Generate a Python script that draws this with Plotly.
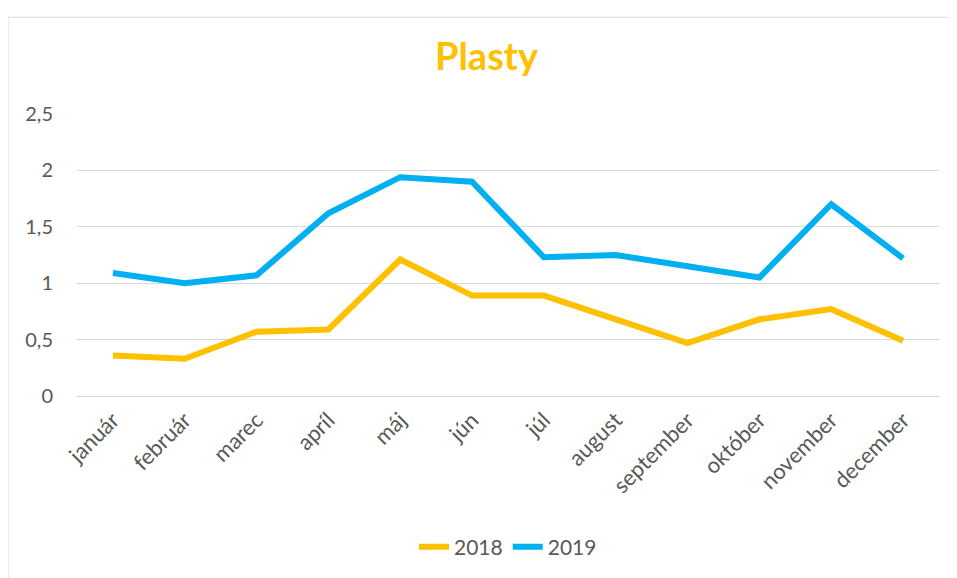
import plotly.graph_objects as go

months = ["január", "február", "marec", "apríl", "máj", "jún", "júl",
          "august", "september", "október", "november", "december"]
y2018 = [0.36, 0.33, 0.57, 0.59, 1.21, 0.89, 0.89, 0.68, 0.47, 0.68, 0.77, 0.49]
y2019 = [1.09, 1.00, 1.07, 1.62, 1.94, 1.90, 1.23, 1.25, 1.15, 1.05, 1.70, 1.22]
series_names = ["2018", "2019"]
colors = ["#FFC000", "#00B0F0"]
yticks = [0, 0.5, 1, 1.5, 2, 2.5]

fig = go.Figure()
for name, vals, col in zip(series_names, [y2018, y2019], colors):
    fig.add_trace(go.Scatter(x=months, y=vals, name=name, mode="lines",
                             line=dict(color=col, width=6)))

font_family = "Lato, 'Open Sans', sans-serif"
# page has an 8px body margin; margins compensate so the plot area sits where the reference has it
fig.update_layout(
    width=957, height=578,
    margin=dict(l=69, r=26, t=106, b=189.5, autoexpand=False),
    paper_bgcolor="white", plot_bgcolor="white",
    separators=",.",
    title=dict(text="<b>Plasty</b>", x=0.5, xanchor="center", y=0.915, yanchor="middle",
               font=dict(family=font_family, size=38, color="#FFC000")),
    font=dict(family=font_family, color="#595959", size=20),
    showlegend=True,
    legend=dict(orientation="h", x=0.5, xanchor="center", y=-0.536, yanchor="middle",
                font=dict(size=21, color="#595959"), tracegroupgap=0),
    xaxis=dict(type="category", tickangle=-45, showgrid=False, showline=False,
               ticks="", ticklabelstandoff=6,
               tickfont=dict(size=22, color="#595959"), range=[-0.5, 11.5]),
    yaxis=dict(range=[0, 2.5], tickvals=yticks, showgrid=True, gridcolor="#D9D9D9",
               gridwidth=1, zeroline=True, zerolinecolor="#D9D9D9", zerolinewidth=1,
               ticks="", ticklabelstandoff=23,
               tickfont=dict(size=20, color="#595959")),
    shapes=[dict(type="rect", xref="paper", yref="paper",
                 x0=-0.0800, x1=1.016, y0=-0.75, y1=1.343,
                 line=dict(color="#D9D9D9", width=1), fillcolor="rgba(0,0,0,0)", layer="below")],
)

fig.write_html("out.html")
